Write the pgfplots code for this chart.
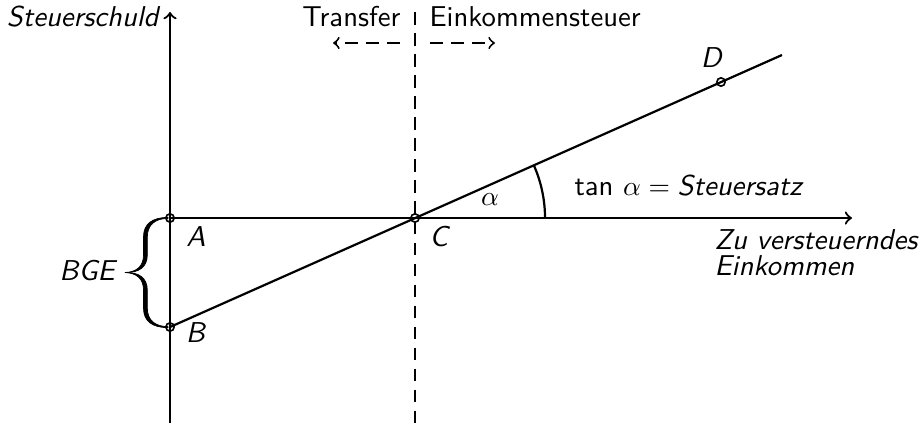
\documentclass[border=0pt]{standalone}
\usepackage{pgfplots}
\pgfplotsset{compat=1.18}
\renewcommand{\familydefault}{\sfdefault}
\begin{document}
\begin{tikzpicture}
\begin{axis}[hide axis, scale only axis, width=334pt, height=153.24pt,
  xmin=0, xmax=922, ymin=0, ymax=423, clip=false,
  font=\fontsize{10.4}{12.5}\selectfont]
% axes
\addplot[line width=0.8pt, ->] coordinates {(170,0) (170,411)};
\addplot[line width=0.8pt, ->] coordinates {(170,205) (852,205)};
% separator
\addplot[line width=0.7pt, dash pattern=on 4.6pt off 3pt] coordinates {(415,411) (415,0)};
\addplot[line width=0.7pt, dash pattern=on 4.6pt off 3pt, ->] coordinates {(400,380) (333,380)};
\addplot[line width=0.7pt, dash pattern=on 4.6pt off 3pt, ->] coordinates {(430,380) (495,380)};
% tax line
\addplot[line width=0.8pt] coordinates {(170,96) (782,368)};
% brace (filled, calligraphic)
\filldraw[line width=0.25pt] (axis cs:168,205.6) .. controls (axis cs:152,205.6) and (axis cs:143.5,199) .. (axis cs:143.5,186)
  -- (axis cs:143.5,168) .. controls (axis cs:143.5,157) and (axis cs:137,151) .. (axis cs:125,150.5)
  .. controls (axis cs:139,150) and (axis cs:147.3,156) .. (axis cs:147.3,168)
  -- (axis cs:147.3,186) .. controls (axis cs:147.3,198) and (axis cs:155,204.6) .. (axis cs:168,204.6) -- cycle;
\filldraw[line width=0.25pt] (axis cs:168,95.4) .. controls (axis cs:152,95.4) and (axis cs:143.5,102) .. (axis cs:143.5,115)
  -- (axis cs:143.5,133) .. controls (axis cs:143.5,144) and (axis cs:137,150) .. (axis cs:125,150.5)
  .. controls (axis cs:139,151) and (axis cs:147.3,145) .. (axis cs:147.3,133)
  -- (axis cs:147.3,115) .. controls (axis cs:147.3,103) and (axis cs:155,96.4) .. (axis cs:168,96.4) -- cycle;
% points
\addplot[only marks, mark=o, mark size=1.5pt, mark options={fill=white, line width=0.6pt}]
  coordinates {(170,205) (170,96) (415,205) (721,341)};
% angle arc
\draw[line width=0.8pt] (axis cs:545,205) arc[start angle=0, end angle=23.96, radius=47.09pt];
% labels
\node[anchor=east, inner sep=0pt] at (axis cs:161,406) {\textit{Steuerschuld}};
\node[anchor=east, inner sep=0pt] at (axis cs:401,406) {Transfer};
\node[anchor=west, inner sep=0pt] at (axis cs:429,406) {Einkommensteuer};
\node at (axis cs:196,186) {\textit{A}};
\node at (axis cs:196,90) {\textit{B}};
\node at (axis cs:440,186) {\textit{C}};
\node at (axis cs:712,365) {\textit{D}};
\node at (axis cs:490,223) {$\alpha$};
\node[anchor=west, inner sep=0pt] at (axis cs:574,237) {tan $\alpha = {}$\textit{Steuersatz}};
\node[anchor=base west, inner sep=0pt] at (axis cs:714,174) {\textit{Zu versteuerndes}};
\node[anchor=base west, inner sep=0pt] at (axis cs:714,148) {\textit{Einkommen}};
\node[anchor=east, inner sep=0pt] at (axis cs:118,152) {\textit{BGE}};
\end{axis}
\pgfresetboundingbox
\path (current axis.south west) rectangle (current axis.north east);
\end{tikzpicture}
\end{document}
